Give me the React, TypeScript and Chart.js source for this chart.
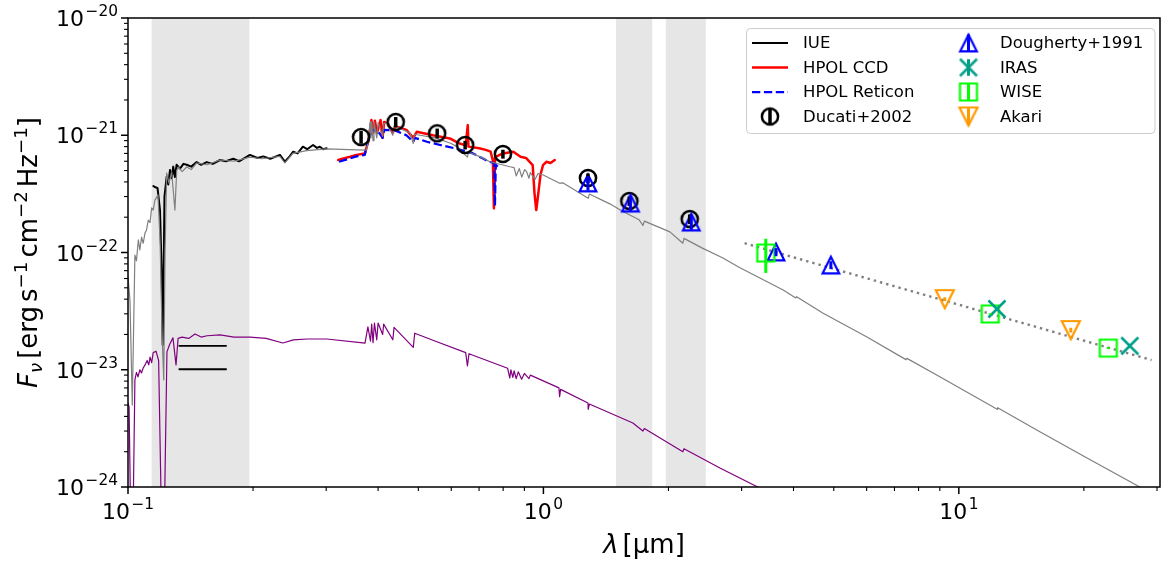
import React, { useEffect, useRef } from "react";
import { Chart, registerables } from "chart.js";
Chart.register(...registerables);

// ---------------- data ----------------
const modelWave = [0.1, 0.1011, 0.1024, 0.1039, 0.1048, 0.1059, 0.1068, 0.1078, 0.1088, 0.1099, 0.1108, 0.1119, 0.113, 0.114, 0.115, 0.1161, 0.1181, 0.1195, 0.1208, 0.1219, 0.1228, 0.1239, 0.1255, 0.1274, 0.1297, 0.131, 0.1321, 0.135, 0.1384, 0.142, 0.1463, 0.155, 0.1665, 0.18, 0.1966, 0.21, 0.2321, 0.2386, 0.2494, 0.2692, 0.3008, 0.34, 0.3754, 0.3787, 0.383, 0.3845, 0.386, 0.3889, 0.391, 0.397, 0.4, 0.4102, 0.4125, 0.4195, 0.434, 0.437, 0.45, 0.4774, 0.4861, 0.489, 0.5046, 0.55, 0.6, 0.618, 0.6563, 0.66, 0.7, 0.7435, 0.8306, 0.85, 0.86, 0.875, 0.887, 0.9015, 0.9112, 0.9229, 0.93, 0.9546, 0.97, 0.9989, 1.094, 1.116, 1.2818, 1.29, 1.445, 1.55, 1.7, 1.736, 1.75, 2.016, 2.166, 2.18, 2.4, 2.705, 2.972, 3.778, 4.05, 4.07, 4.714, 5.996, 7.46, 7.5, 9.0, 12.37, 12.4, 15.67, 20.0, 27.27, 32.0];
const modelFlux = [6.2e-23, 3.9e-23, 5.0e-24, 9.5e-23, 8.5e-23, 1.28e-22, 1.05e-22, 1.35e-22, 1.2e-22, 1.47e-22, 1.55e-22, 1.89e-22, 1.8e-22, 2.4e-22, 2.3e-22, 2.8e-22, 3.1e-22, 1.2e-22, 2.0e-23, 8.2e-24, 1.0e-22, 4.77e-22, 3.9e-22, 4.86e-22, 2.3e-22, 5.0e-22, 5.36e-22, 4.9e-22, 5.36e-22, 5.1e-22, 5.8e-22, 5.6e-22, 6.15e-22, 6.0e-22, 6.5e-22, 6.3e-22, 6.6e-22, 5.8e-22, 7.0e-22, 7.4e-22, 7.64e-22, 7.55e-22, 7.48e-22, 9.1e-22, 1.3e-21, 9.5e-22, 1.3e-21, 9.0e-22, 1.3e-21, 9.5e-22, 1.28e-21, 9.8e-22, 1.26e-21, 1.27e-21, 1.0e-21, 1.2e-21, 1.15e-21, 1.045e-21, 8.5e-22, 1.02e-21, 1.0e-21, 9.5e-22, 8.5e-22, 8.0e-22, 6.5e-22, 7.2e-22, 6.6e-22, 5.94e-22, 5.39e-22, 5.3e-22, 4.5e-22, 5.2e-22, 4.4e-22, 5.1e-22, 4.89e-22, 4.3e-22, 4.8e-22, 4.2e-22, 4.7e-22, 4.58e-22, 3.9e-22, 3.92e-22, 2.9e-22, 3.15e-22, 2.6e-22, 2.25e-22, 1.9e-22, 1.7e-22, 1.85e-22, 1.5e-22, 1.2e-22, 1.32e-22, 1.1e-22, 8.97e-23, 7.41e-23, 4.79e-23, 4.1e-23, 4.2e-23, 3.03e-23, 1.91e-23, 1.22e-23, 1.25e-23, 8.73e-24, 4.6e-24, 4.75e-24, 2.96e-24, 1.83e-24, 1.0e-24, 7.3e-25];

const compWave = [0.1, 0.1006, 0.1022, 0.1039, 0.1048, 0.1057, 0.1068, 0.1078, 0.1087, 0.1099, 0.1112, 0.1122, 0.113, 0.114, 0.115, 0.1168, 0.1185, 0.1214, 0.1241, 0.126, 0.1283, 0.1305, 0.132, 0.1349, 0.14, 0.145, 0.15, 0.155, 0.1665, 0.18, 0.1966, 0.215, 0.236, 0.25, 0.2697, 0.301, 0.372, 0.378, 0.3835, 0.386, 0.3889, 0.392, 0.397, 0.4, 0.4102, 0.4125, 0.434, 0.437, 0.4861, 0.49, 0.55, 0.65, 0.6563, 0.662, 0.82, 0.83, 0.835, 0.844, 0.85, 0.86, 0.87, 0.8863, 0.9, 0.923, 0.93, 1.09, 1.094, 1.1, 1.28, 1.282, 1.29, 1.642, 1.736, 1.75, 2.166, 2.18, 2.66, 3.28, 4.0];
const compFlux = [5.2e-24, 4.8e-24, 1e-25, 8.2e-24, 9.5e-24, 8.7e-24, 1.0e-23, 9.4e-24, 1.03e-23, 1.1e-23, 1.2e-23, 1.1e-23, 1.28e-23, 1.15e-23, 1.4e-23, 1.44e-23, 1.2e-23, 1e-25, 1.42e-23, 1.65e-23, 1.87e-23, 1.1e-23, 1.85e-23, 1.9e-23, 1.85e-23, 2.02e-23, 1.9e-23, 1.95e-23, 1.98e-23, 1.9e-23, 1.9e-23, 1.85e-23, 1.69e-23, 1.8e-23, 1.83e-23, 1.83e-23, 1.69e-23, 2.32e-23, 1.75e-23, 2.45e-23, 1.7e-23, 2.5e-23, 1.8e-23, 2.5e-23, 2.0e-23, 2.45e-23, 1.8e-23, 2.3e-23, 1.55e-23, 2.05e-23, 1.75e-23, 1.4e-23, 1.08e-23, 1.37e-23, 1.03e-23, 8.5e-24, 1.0e-23, 8.6e-24, 9.8e-24, 8.4e-24, 9.6e-24, 8.3e-24, 9.3e-24, 8.4e-24, 9.0e-24, 7.0e-24, 5.9e-24, 6.8e-24, 5.2e-24, 4.6e-24, 5.1e-24, 3.51e-24, 3.0e-24, 3.15e-24, 2.0e-24, 2.12e-24, 1.45e-24, 1.0e-24, 6.4e-25];

const iueWave = [0.1151, 0.1165, 0.1178, 0.1194, 0.1205, 0.1212, 0.1218, 0.1224, 0.1239, 0.125, 0.1262, 0.1274, 0.1285, 0.1297, 0.1309, 0.1334, 0.136, 0.1384, 0.142, 0.1463, 0.15, 0.1546, 0.16, 0.1665, 0.172, 0.1793, 0.185, 0.1966, 0.205, 0.2116, 0.22, 0.2321, 0.2386, 0.245, 0.2498, 0.256, 0.2636, 0.27, 0.2789, 0.285, 0.2897, 0.295, 0.3008];
const iueFlux = [3.69e-22, 3.6e-22, 3.54e-22, 2.3e-22, 7.1e-23, 1.63e-23, 6.0e-23, 3.0e-22, 4.43e-22, 3.8e-22, 5.05e-22, 4.3e-22, 5.4e-22, 4.4e-22, 5.6e-22, 5.2e-22, 5.7e-22, 5.6e-22, 5.4e-22, 5.9e-22, 5.6e-22, 5.9e-22, 5.7e-22, 6.15e-22, 6.0e-22, 6.3e-22, 6.0e-22, 6.8e-22, 6.4e-22, 6.6e-22, 6.3e-22, 6.8e-22, 5.95e-22, 6.6e-22, 7.24e-22, 7.0e-22, 7.98e-22, 7.6e-22, 8.26e-22, 7.8e-22, 7.98e-22, 7.6e-22, 7.74e-22];

const ccdWave = [0.3207, 0.33, 0.3427, 0.355, 0.3715, 0.3787, 0.3855, 0.389, 0.393, 0.3975, 0.4054, 0.41, 0.4136, 0.4218, 0.434, 0.44, 0.4455, 0.4679, 0.4861, 0.4955, 0.5418, 0.5951, 0.6289, 0.65, 0.6575, 0.66, 0.7007, 0.7266, 0.7463, 0.7557, 0.76, 0.765, 0.7985, 0.8464, 0.8809, 0.9078, 0.9423, 0.9518, 0.9612, 0.97, 0.984, 0.998, 1.0176, 1.04, 1.0649];
const ccdFlux = [6.15e-22, 6.35e-22, 6.56e-22, 6.8e-22, 7.0e-22, 8.8e-22, 1.35e-21, 1.05e-21, 1.33e-21, 1.04e-21, 1.35e-21, 9.5e-22, 1.3e-21, 1.26e-21, 1.05e-21, 1.2e-21, 1.18e-21, 1.11e-21, 9.5e-22, 1.07e-21, 1.0e-21, 9.4e-22, 8.5e-22, 8.2e-22, 1.22e-21, 8.0e-22, 7.74e-22, 7.5e-22, 7.24e-22, 6.1e-22, 2.38e-22, 6.5e-22, 7.0e-22, 7.24e-22, 6.56e-22, 6.4e-22, 5.57e-22, 3.2e-22, 2.3e-22, 3.0e-22, 4.6e-22, 5.57e-22, 5.94e-22, 5.8e-22, 6.15e-22];

const retWave = [0.3222, 0.33, 0.3427, 0.355, 0.3715, 0.3787, 0.3894, 0.4, 0.41, 0.4136, 0.4394, 0.4679, 0.4861, 0.49, 0.5244, 0.5641, 0.6119, 0.6536, 0.6766, 0.7137, 0.7395, 0.7612, 0.7644, 0.768, 0.7765];
const retFlux = [5.94e-22, 6.1e-22, 6.35e-22, 6.6e-22, 6.8e-22, 9.1e-22, 1.11e-21, 1.08e-21, 9.5e-22, 1.11e-21, 1.1e-21, 1.0e-21, 8.8e-22, 9.5e-22, 8.8e-22, 8.26e-22, 7.74e-22, 7.24e-22, 7.0e-22, 6.35e-22, 5.94e-22, 5.8e-22, 2.5e-22, 5.6e-22, 5.4e-22];

const ducatiWave = [0.364, 0.441, 0.555, 0.648, 0.799, 1.28, 1.61, 2.25];
const ducatiFlux = [9.66e-22, 1.3e-21, 1.04e-21, 8.26e-22, 6.92e-22, 4.32e-22, 2.75e-22, 1.93e-22];
const ducatiErr = [1.2e-22, 1.3e-22, 1.0e-22, 7e-23, 6e-23, 4e-23, 2.5e-23, 1.8e-23];

const doughertyWave = [1.28, 1.62, 2.27, 3.63, 4.92];
const doughertyFlux = [3.92e-22, 2.64e-22, 1.82e-22, 1.01e-22, 7.82e-23];
const doughertyErr = [5.5e-23, 3.8e-23, 2.6e-23, 8e-24, 6e-24];

const wiseWave = [3.43, 11.9, 22.9];
const wiseFlux = [9.9e-23, 2.99e-23, 1.53e-23];
const wiseErr = [3.2e-23, 4e-25, 3e-25];

const irasWave = [12.35, 25.8];
const irasFlux = [3.3e-23, 1.6e-23];
const irasErr = [1.0e-24, 6e-25];

const akariWave = [9.25, 18.6];
const akariFlux = [4.0e-23, 2.18e-23];
const akariErr = [1.5e-24, 1.0e-24];

const dustWave = [3.05, 29.1];
const dustFlux = [1.2e-22, 1.21e-23];

const uvBarWave = [0.1329, 0.1722];
const uvBarUpper = [1.6e-23, 1.6e-23];
const uvBarLower = [1.01e-23, 1.01e-23];

const bandStart = [0.114, 1.495, 1.971];
const bandEnd = [0.196, 1.828, 2.46];

const xDecades = [-1, 0, 1];
const xTickLabels = ["\u22121", "0", "1"];
const yDecades = [-24, -23, -22, -21, -20];
const yTickLabels = ["\u221224", "\u221223", "\u221222", "\u221221", "\u221220"];

const legendLeft = ["IUE", "HPOL CCD", "HPOL Reticon", "Ducati+2002"];
const legendRight = ["Dougherty+1991", "IRAS", "WISE", "Akari"];

// ---------------- helpers ----------------
const FONT = '"DejaVu Sans", "Liberation Sans", sans-serif';
const TICK_PX = 22;
const LABEL_PX = 26;
const xy = (xs: number[], ys: number[]) => xs.map((x, i) => ({ x, y: ys[i] }));

function makeMarker(kind: string, color: string, size: number, lw: number): HTMLCanvasElement {
  const half = Math.ceil(size + lw + 2);
  const dim = half * 2;
  const c = document.createElement("canvas");
  c.width = dim;
  c.height = dim;
  const ctx = c.getContext("2d")!;
  const m = half;
  ctx.strokeStyle = color;
  ctx.lineWidth = lw;
  ctx.lineJoin = "miter";
  ctx.beginPath();
  if (kind === "circle") ctx.arc(m, m, size, 0, Math.PI * 2);
  else if (kind === "up") {
    ctx.moveTo(m, m - size); ctx.lineTo(m - size, m + size); ctx.lineTo(m + size, m + size); ctx.closePath();
  } else if (kind === "down") {
    ctx.moveTo(m, m + size); ctx.lineTo(m - size, m - size); ctx.lineTo(m + size, m - size); ctx.closePath();
  } else if (kind === "square") ctx.rect(m - size, m - size, size * 2, size * 2);
  else if (kind === "x") {
    ctx.moveTo(m - size, m - size); ctx.lineTo(m + size, m + size);
    ctx.moveTo(m + size, m - size); ctx.lineTo(m - size, m + size);
  }
  ctx.stroke();
  return c;
}

const COL = {
  iue: "#000000",
  ccd: "#ff0000",
  ret: "#0000ff",
  ducati: "#000000",
  dough: "#0000ff",
  iras: "#00a088",
  wise: "#00ff00",
  akari: "#ff9900",
  model: "#808080",
  comp: "#800080",
};

function drawRuns(ctx: CanvasRenderingContext2D, runs: any[], x0: number, y0: number) {
  let x = x0;
  for (const r of runs) {
    if (r.gap) { x += r.gap; continue; }
    ctx.font = r.font;
    ctx.fillText(r.t, x, y0 + (r.dy || 0));
    x += ctx.measureText(r.t).width;
  }
  return x - x0;
}
function runsWidth(ctx: CanvasRenderingContext2D, runs: any[]) {
  let w = 0;
  for (const r of runs) {
    if (r.gap) { w += r.gap; continue; }
    ctx.font = r.font;
    w += ctx.measureText(r.t).width;
  }
  return w;
}

function powRuns(exp: string) {
  return [
    { t: "10", font: `${TICK_PX}px ${FONT}` },
    { gap: 1.5 },
    { t: exp, font: `${TICK_PX * 0.7}px ${FONT}`, dy: -TICK_PX * 0.45 },
  ];
}

export default function App() {
  const ref = useRef<HTMLCanvasElement | null>(null);

  useEffect(() => {
    const canvas = ref.current!;
    const mk = {
      circle: makeMarker("circle", COL.ducati, 8.1, 2.5),
      up: makeMarker("up", COL.dough, 8.3, 2.2),
      x: makeMarker("x", COL.iras, 8.5, 2.5),
      square: makeMarker("square", COL.wise, 8.5, 2.2),
      down: makeMarker("down", COL.akari, 9, 2.2),
    };

    const errSets = [
      { xs: ducatiWave, ys: ducatiFlux, es: ducatiErr, color: COL.ducati, lw: 3.5 },
      { xs: doughertyWave, ys: doughertyFlux, es: doughertyErr, color: COL.dough, lw: 3 },
      { xs: irasWave, ys: irasFlux, es: irasErr, color: COL.iras, lw: 3 },
      { xs: wiseWave, ys: wiseFlux, es: wiseErr, color: COL.wise, lw: 3 },
      { xs: akariWave, ys: akariFlux, es: akariErr, color: COL.akari, lw: 3 },
    ];

    const plugin = {
      id: "mplAxes",
      beforeDatasetsDraw(chart: any) {
        const { ctx, chartArea: a, scales } = chart;
        const xs = scales.x;
        ctx.save();
        ctx.fillStyle = "rgba(128,128,128,0.2)";
        for (let i = 0; i < bandStart.length; i++) {
          const x1 = xs.getPixelForValue(bandStart[i]);
          const x2 = xs.getPixelForValue(bandEnd[i]);
          ctx.fillRect(x1, a.top, x2 - x1, a.bottom - a.top);
        }
        ctx.restore();
      },
      afterDatasetsDraw(chart: any) {
        const { ctx, chartArea: a, scales } = chart;
        ctx.save();
        ctx.beginPath();
        ctx.rect(a.left, a.top, a.right - a.left, a.bottom - a.top);
        ctx.clip();
        for (const s of errSets) {
          ctx.strokeStyle = s.color;
          ctx.lineWidth = s.lw;
          for (let i = 0; i < s.xs.length; i++) {
            const px = scales.x.getPixelForValue(s.xs[i]);
            const y1 = scales.y.getPixelForValue(s.ys[i] - s.es[i]);
            const y2 = scales.y.getPixelForValue(s.ys[i] + s.es[i]);
            ctx.beginPath();
            ctx.moveTo(px, y1);
            ctx.lineTo(px, y2);
            ctx.stroke();
          }
        }
        ctx.restore();
      },
      afterDraw(chart: any) {
        const { ctx, chartArea: a, scales } = chart;
        const X = scales.x, Y = scales.y;
        ctx.save();
        ctx.fillStyle = "#000";
        ctx.strokeStyle = "#000";
        // spines
        ctx.lineWidth = 1.5;
        ctx.strokeRect(a.left, a.top, a.right - a.left, a.bottom - a.top);
        // ticks
        const tick = (horizontal: boolean, p: number, len: number, w: number) => {
          ctx.lineWidth = w;
          ctx.beginPath();
          if (horizontal) { ctx.moveTo(p, a.bottom); ctx.lineTo(p, a.bottom + len); }
          else { ctx.moveTo(a.left, p); ctx.lineTo(a.left - len, p); }
          ctx.stroke();
        };
        const xmax = X.max, xmin = X.min;
        for (let e = -2; e <= 2; e++) {
          for (let k = 1; k <= 9; k++) {
            const v = k * Math.pow(10, e);
            if (v < xmin * 0.999 || v > xmax * 1.001) continue;
            tick(true, X.getPixelForValue(v), k === 1 ? 7 : 4, k === 1 ? 1.5 : 1.1);
          }
        }
        for (let e = -25; e <= -20; e++) {
          for (let k = 1; k <= 9; k++) {
            const v = k * Math.pow(10, e);
            if (v < 1e-24 * 0.999 || v > 1e-20 * 1.001) continue;
            tick(false, Y.getPixelForValue(v), k === 1 ? 7 : 4, k === 1 ? 1.5 : 1.1);
          }
        }
        // tick labels
        ctx.textBaseline = "alphabetic";
        ctx.textAlign = "left";
        xDecades.forEach((d, i) => {
          const runs = powRuns(xTickLabels[i]);
          const w = runsWidth(ctx, runs);
          const px = X.getPixelForValue(Math.pow(10, d));
          drawRuns(ctx, runs, px - w / 2, 519);
        });
        yDecades.forEach((d, i) => {
          const runs = powRuns(yTickLabels[i]);
          const w = runsWidth(ctx, runs);
          const py = Y.getPixelForValue(Math.pow(10, d));
          drawRuns(ctx, runs, 118 - w, py + 8);
        });
        // x label
        const xl = [
          { t: "\u03bb", font: `italic ${LABEL_PX}px ${FONT}` },
          { gap: 4 },
          { t: "[\u03bcm]", font: `${LABEL_PX}px ${FONT}` },
        ];
        const xw = runsWidth(ctx, xl);
        drawRuns(ctx, xl, (a.left + a.right) / 2 - xw / 2, 553);
        // y label
        const sup = `${LABEL_PX * 0.7}px ${FONT}`;
        const up = `${LABEL_PX}px ${FONT}`;
        const yl = [
          { t: "F", font: `italic ${LABEL_PX}px ${FONT}` },
          { t: "\u03bd", font: `italic ${LABEL_PX * 0.7}px ${FONT}`, dy: 5 },
          { gap: 4 },
          { t: "[erg", font: up },
          { gap: 4 },
          { t: "s", font: up },
          { t: "\u22121", font: sup, dy: -10 },
          { gap: 4 },
          { t: "cm", font: up },
          { t: "\u22122", font: sup, dy: -10 },
          { gap: 4 },
          { t: "Hz", font: up },
          { t: "\u22121", font: sup, dy: -10 },
          { t: "]", font: up },
        ];
        const yw = runsWidth(ctx, yl);
        ctx.save();
        ctx.translate(37, (a.top + a.bottom) / 2);
        ctx.rotate(-Math.PI / 2);
        drawRuns(ctx, yl, -yw / 2, 0);
        ctx.restore();

        // legend
        const bx = 746.5, by = 28.5, bw = 408.5, bh = 105, r = 4;
        ctx.beginPath();
        ctx.moveTo(bx + r, by);
        ctx.lineTo(bx + bw - r, by);
        ctx.quadraticCurveTo(bx + bw, by, bx + bw, by + r);
        ctx.lineTo(bx + bw, by + bh - r);
        ctx.quadraticCurveTo(bx + bw, by + bh, bx + bw - r, by + bh);
        ctx.lineTo(bx + r, by + bh);
        ctx.quadraticCurveTo(bx, by + bh, bx, by + bh - r);
        ctx.lineTo(bx, by + r);
        ctx.quadraticCurveTo(bx, by, bx + r, by);
        ctx.closePath();
        ctx.fillStyle = "rgba(255,255,255,0.8)";
        ctx.fill();
        ctx.strokeStyle = "#cccccc";
        ctx.lineWidth = 1;
        ctx.stroke();

        const rows = [43, 67.5, 92, 116.5];
        ctx.fillStyle = "#000";
        ctx.font = `16.5px ${FONT}`;
        ctx.textBaseline = "middle";
        legendLeft.forEach((t, i) => ctx.fillText(t, 803, rows[i] + 1));
        legendRight.forEach((t, i) => ctx.fillText(t, 1000, rows[i] + 1));

        const hLine = (y: number, color: string, lw: number, dash: number[]) => {
          ctx.save();
          ctx.strokeStyle = color;
          ctx.lineWidth = lw;
          ctx.setLineDash(dash);
          ctx.beginPath();
          ctx.moveTo(752, y);
          ctx.lineTo(788, y);
          ctx.stroke();
          ctx.restore();
        };
        hLine(rows[0], COL.iue, 2, []);
        hLine(rows[1], COL.ccd, 2.5, []);
        hLine(rows[2], COL.ret, 2.25, [8.3, 3.6]);
        const errMark = (cx: number, cy: number, img: HTMLCanvasElement, color: string, lw: number) => {
          ctx.save();
          ctx.strokeStyle = color;
          ctx.lineWidth = lw;
          ctx.beginPath();
          ctx.moveTo(cx, cy - 8.3);
          ctx.lineTo(cx, cy + 8.3);
          ctx.stroke();
          ctx.drawImage(img, cx - img.width / 2, cy - img.height / 2);
          ctx.restore();
        };
        errMark(770, rows[3], mk.circle, COL.ducati, 3.5);
        errMark(968.5, rows[0], mk.up, COL.dough, 3);
        errMark(968.5, rows[1], mk.x, COL.iras, 3);
        errMark(968.5, rows[2], mk.square, COL.wise, 3);
        errMark(968.5, rows[3], mk.down, COL.akari, 3);
        ctx.restore();
      },
    };

    const line = (xs: number[], ys: number[], color: string, width: number, dash: number[] = []) => ({
      type: "line",
      data: xy(xs, ys),
      borderColor: color,
      backgroundColor: color,
      borderWidth: width,
      borderDash: dash,
      borderJoinStyle: "round",
      borderCapStyle: dash.length ? "butt" : "round",
      pointRadius: 0,
      pointHoverRadius: 0,
      fill: false,
      tension: 0,
    });
    const pts = (xs: number[], ys: number[], img: HTMLCanvasElement) => ({
      type: "line",
      data: xy(xs, ys),
      showLine: false,
      pointStyle: img,
      pointRadius: 9,
      pointHoverRadius: 9,
      borderColor: "rgba(0,0,0,0)",
      backgroundColor: "rgba(0,0,0,0)",
    });

    // bottom first
    const drawList: any[] = [
      line(iueWave, iueFlux, COL.iue, 2),
      line(ccdWave, ccdFlux, COL.ccd, 2.5),
      line(retWave, retFlux, COL.ret, 2.25, [8.3, 3.6]),
      line(modelWave, modelFlux, COL.model, 1.2),
      line(compWave, compFlux, COL.comp, 1.2),
      line(dustWave, dustFlux, "#808080", 2.4, [2.4, 4.0]),
      line(uvBarWave, uvBarUpper, "#000000", 1.8),
      line(uvBarWave, uvBarLower, "#000000", 1.8),
      pts(ducatiWave, ducatiFlux, mk.circle),
      pts(doughertyWave, doughertyFlux, mk.up),
      pts(wiseWave, wiseFlux, mk.square),
      pts(irasWave, irasFlux, mk.x),
      pts(akariWave, akariFlux, mk.down),
    ];
    drawList.forEach((d, i) => (d.order = drawList.length - i));

    const chart = new Chart(canvas, {
      type: "line",
      data: { datasets: drawList },
      options: {
        animation: false,
        responsive: false,
        devicePixelRatio: 1,
        events: [],
        layout: { autoPadding: false, padding: { left: 128, right: 1, top: 18, bottom: 74 } },
        scales: {
          x: { type: "logarithmic", min: 0.1, max: 30.5, display: false },
          y: { type: "logarithmic", min: 1e-24, max: 1e-20, display: false },
        },
        plugins: { legend: { display: false }, tooltip: { enabled: false } },
      },
      plugins: [plugin],
    } as any);
    return () => chart.destroy();
  }, []);

  return (
    <div style={{ position: "fixed", left: 0, top: 0, width: 1161, height: 561, background: "#fff" }}>
      <canvas ref={ref} width={1161} height={561} style={{ display: "block", width: 1161, height: 561 }} />
    </div>
  );
}
